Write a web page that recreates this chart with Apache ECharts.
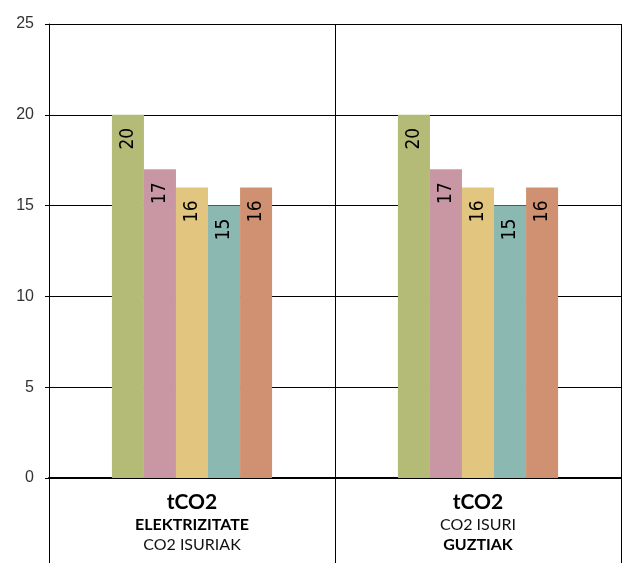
<!DOCTYPE html>
<html>
<head>
<meta charset="utf-8">
<script src="https://cdn.jsdelivr.net/npm/echarts@6/dist/echarts.min.js"></script>
<style>
	html, body { margin: 0; padding: 0; background: #fff; }
	#myChart { width: 632px; height: 563px; }
</style>
</head>
<body>
<div id="myChart"></div>
<script>
var categories = [ '{a|tCO2}\n{b|ELEKTRIZITATE}\n{c|CO2 ISURIAK}',
		'{a|tCO2}\n{c|CO2 ISURI}\n{b|GUZTIAK}' ];
var seriesNames = [ 'S1', 'S2', 'S3', 'S4', 'S5' ];
var seriesValues = [ [ 20, 20 ], [ 17, 17 ], [ 16, 16 ], [ 15, 15 ], [ 16, 16 ] ];
var seriesColors = [ '#b3bb77', '#c997a3', '#e2c57e', '#8bb8b1', '#d09173' ];
var yTicks = [ 0, 5, 10, 15, 20, 25 ];

function showChart() {
	var myChart = echarts.init(document.getElementById('myChart'));
	var series = [];
	for (var i = 0; i < seriesNames.length; i++) {
		series.push({
			name : seriesNames[i],
			type : 'bar',
			data : seriesValues[i],
			barGap : 0,
			barCategoryGap : '44%',
			itemStyle : {
				color : seriesColors[i]
			},
			label : {
				show : true,
				position : 'insideTop',
				distance : 13,
				rotate : 90,
				align : 'right',
				verticalAlign : 'middle',
				color : '#000',
				fontSize : 19,
				fontFamily : '"Liberation Sans Narrow", "DejaVu Sans Condensed", sans-serif'
			}
		});
	}
	myChart.setOption({
		animation : false,
		grid : {
			left : 49,
			right : 11,
			top : 24,
			bottom : 85
		},
		xAxis : {
			type : 'category',
			data : categories,
			axisLine : {
				lineStyle : {
					color : '#000',
					width : 2
				}
			},
			axisTick : {
				show : true,
				length : 85,
				lineStyle : {
					color : '#000',
					width : 1
				}
			},
			splitLine : {
				show : true,
				lineStyle : {
					color : '#000',
					width : 1
				}
			},
			axisLabel : {
				margin : 12,
				color : '#000',
				fontFamily : 'Lato, sans-serif',
				rich : {
					a : {
						fontSize : 21,
						fontWeight : 'bold',
						lineHeight : 25,
						fontFamily : 'Lato, sans-serif',
						color : '#000'
					},
					b : {
						fontSize : 16,
						fontWeight : 'bold',
						lineHeight : 20,
						fontFamily : 'Lato, sans-serif',
						color : '#000'
					},
					c : {
						fontSize : 16,
						lineHeight : 20,
						fontFamily : 'Lato, sans-serif',
						color : '#111'
					}
				}
			}
		},
		yAxis : {
			type : 'value',
			min : yTicks[0],
			max : yTicks[yTicks.length - 1],
			interval : 5,
			axisLine : {
				show : true,
				lineStyle : {
					color : '#000',
					width : 1
				}
			},
			axisTick : {
				show : true,
				length : 4,
				lineStyle : {
					color : '#000'
				}
			},
			splitLine : {
				show : true,
				lineStyle : {
					color : '#000',
					width : 1
				}
			},
			axisLabel : {
				margin : 15,
				color : '#333',
				fontSize : 16,
				fontFamily : '"Liberation Sans", Arial, sans-serif',
				padding : [ 0, 0, 9, 0 ]
			}
		},
		series : series
	});
}
showChart();
</script>
</body>
</html>
